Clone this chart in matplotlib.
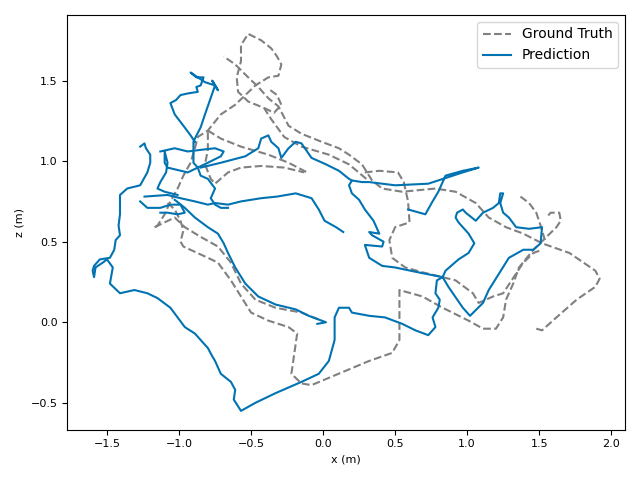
import matplotlib
matplotlib.use("Agg")
import matplotlib.pyplot as plt

# Ground truth trajectory pieces (x, z in metres)
gt1_x = [1.48, 1.52, 1.62, 1.76, 1.89, 1.92, 1.89, 1.71, 1.52, 1.39, 1.27, 1.15, 1.06, 0.92, 0.78,
         0.55, 0.41, 0.34, 0.27, 0.18, 0.11, -0.01, -0.15, -0.24, -0.31, -0.38, -0.45, -0.52, -0.61, -0.69]
gt1_y = [-0.04, -0.05, 0.03, 0.14, 0.22, 0.27, 0.32, 0.43, 0.49, 0.55, 0.59, 0.65, 0.74, 0.81, 0.83,
         0.81, 0.83, 0.88, 0.98, 1.04, 1.08, 1.12, 1.17, 1.22, 1.34, 1.39, 1.46, 1.52, 1.60, 1.65]

gt2_x = [0.30, 0.18, 0.04, -0.15, -0.27, -0.36, -0.41, -0.52, -0.59, -0.60, -0.57, -0.57, -0.52, -0.43,
         -0.36, -0.32, -0.29, -0.31, -0.38, -0.47, -0.54, -0.61, -0.71, -0.80, -0.87, -0.89, -0.92,
         -0.97, -1.01, -1.06, -1.10, -1.15, -1.18]
gt2_y = [0.89, 0.98, 1.04, 1.09, 1.15, 1.26, 1.33, 1.37, 1.43, 1.52, 1.62, 1.72, 1.79, 1.75,
         1.70, 1.65, 1.60, 1.53, 1.52, 1.47, 1.41, 1.35, 1.29, 1.19, 1.15, 1.08, 0.99,
         0.91, 0.83, 0.75, 0.67, 0.60, 0.58]

gt3_x = [-0.41, -0.34, -0.29, -0.32, -0.38]
gt3_y = [1.33, 1.30, 1.35, 1.41, 1.45]

gt4_x = [-0.80, -0.71, -0.57, -0.38, -0.24, -0.11]
gt4_y = [1.19, 1.14, 1.09, 1.04, 0.99, 0.93]

gt5_x = [-0.80, -0.80, -0.82, -0.78, -0.75, -0.66, -0.57, -0.43, -0.27, -0.13]
gt5_y = [1.18, 1.07, 0.98, 0.89, 0.86, 0.93, 0.96, 0.97, 0.96, 0.93]

gt6_x = [-1.08, -1.03, -0.99, -0.97, -0.99, -0.97, -0.80, -0.73, -0.64, -0.57, -0.50, -0.38, -0.24,
         -0.18, -0.22, -0.15, -0.08, 0.16, 0.32, 0.48, 0.53, 0.53, 0.69, 0.83, 1.01, 1.11, 1.20,
         1.25, 1.27, 1.32, 1.36, 1.46, 1.54, 1.62, 1.65, 1.64, 1.58, 1.55]
gt6_y = [0.74, 0.70, 0.63, 0.57, 0.50, 0.47, 0.40, 0.37, 0.26, 0.16, 0.06, 0.01, -0.03,
         -0.07, -0.32, -0.38, -0.39, -0.30, -0.24, -0.19, -0.11, 0.20, 0.16, 0.09, 0.01, -0.04, -0.04,
         0.03, 0.14, 0.24, 0.34, 0.45, 0.52, 0.59, 0.63, 0.68, 0.68, 0.65]

gt7_x = [1.37, 1.43, 1.48, 1.51, 1.54]
gt7_y = [0.78, 0.74, 0.68, 0.60, 0.51]

gt8_x = [-1.17, -1.10, -1.03, -0.96, -0.85, -0.73, -0.64, -0.57, -0.47, -0.33, -0.15, -0.01]
gt8_y = [0.59, 0.62, 0.65, 0.59, 0.53, 0.47, 0.37, 0.24, 0.14, 0.09, 0.06, 0.01]

gt9_x = [0.29, 0.39, 0.52, 0.56, 0.59, 0.60, 0.50, 0.46, 0.48, 0.57, 0.69, 0.92, 1.04, 1.08, 1.18,
         1.25, 1.39, 1.46, 1.52]
gt9_y = [0.93, 0.94, 0.93, 0.87, 0.75, 0.62, 0.59, 0.51, 0.40, 0.34, 0.31, 0.26, 0.18, 0.12, 0.16,
         0.18, 0.37, 0.43, 0.45]

# Predicted trajectory pieces
pr1_x = [-1.27, -1.24, -1.23, -1.20, -1.20, -1.22, -1.27, -1.36, -1.41, -1.41, -1.41, -1.42, -1.41,
         -1.44, -1.45, -1.48, -1.55, -1.59, -1.60, -1.59, -1.58, -1.53, -1.50, -1.46, -1.48, -1.41,
         -1.31, -1.22, -1.15, -1.06, -1.01, -0.96, -0.89, -0.80, -0.77, -0.75, -0.71, -0.64, -0.61,
         -0.62, -0.57, -0.47, -0.33, -0.15, -0.03, 0.04, 0.08, 0.08, 0.11, 0.18, 0.20, 0.32, 0.43,
         0.55, 0.64, 0.73, 0.78, 0.76, 0.80, 0.81, 0.78, 0.79, 0.83]
pr1_y = [1.09, 1.11, 1.08, 1.04, 0.99, 0.93, 0.85, 0.83, 0.79, 0.73, 0.67, 0.60, 0.54,
         0.51, 0.45, 0.40, 0.39, 0.35, 0.32, 0.28, 0.34, 0.37, 0.39, 0.34, 0.24, 0.18,
         0.20, 0.18, 0.15, 0.09, 0.03, -0.03, -0.07, -0.16, -0.21, -0.24, -0.32, -0.37, -0.42,
         -0.48, -0.55, -0.50, -0.44, -0.37, -0.32, -0.24, -0.11, 0.03, 0.09, 0.09, 0.06, 0.04, 0.03,
         -0.01, -0.05, -0.08, -0.03, 0.03, 0.09, 0.14, 0.18, 0.26, 0.28]

pr2_x = [0.83, 0.85, 0.94, 1.01, 1.05, 1.01, 0.94, 0.92, 0.93, 0.97, 0.99, 1.06, 1.11, 1.18, 1.22,
         1.23, 1.25, 1.23, 1.25, 1.29, 1.34, 1.43, 1.52, 1.51, 1.46, 1.39, 1.29, 1.22, 1.15, 1.11,
         1.02, 0.97, 0.87, 0.83]
pr2_y = [0.28, 0.32, 0.39, 0.43, 0.49, 0.55, 0.62, 0.65, 0.68, 0.70, 0.68, 0.63, 0.68, 0.71, 0.74,
         0.80, 0.80, 0.74, 0.68, 0.65, 0.59, 0.58, 0.59, 0.49, 0.45, 0.45, 0.40, 0.30, 0.20, 0.12,
         0.04, 0.09, 0.22, 0.28]

pr3_x = [0.83, 0.66, 0.50, 0.41, 0.32, 0.29, 0.41, 0.42, 0.34, 0.32, 0.39, 0.35, 0.29, 0.25, 0.20,
         0.18, 0.20, 0.27, 0.32, 0.50, 0.73, 0.97, 1.08, 0.97, 0.85, 0.80, 0.76, 0.71, 0.59]
pr3_y = [0.28, 0.31, 0.34, 0.35, 0.40, 0.48, 0.47, 0.50, 0.54, 0.56, 0.55, 0.63, 0.70, 0.76, 0.80,
         0.85, 0.88, 0.87, 0.87, 0.85, 0.86, 0.93, 0.96, 0.94, 0.91, 0.81, 0.75, 0.67, 0.70]

pr4_x = [-1.24, -1.08, -0.99, -0.89, -0.80, -0.75, -0.66, -0.57, -0.43, -0.32, -0.19, -0.08, -0.03,
         0.01, 0.09, 0.14]
pr4_y = [0.78, 0.79, 0.77, 0.75, 0.73, 0.74, 0.73, 0.75, 0.77, 0.78, 0.80, 0.77, 0.70,
         0.63, 0.59, 0.56]

pr5_x = [-0.85, -0.71, -0.54, -0.45, -0.43, -0.38, -0.36, -0.31, -0.29, -0.24, -0.19, -0.15, -0.08,
         0.02, 0.11, 0.18, 0.20]
pr5_y = [0.96, 0.99, 1.03, 1.08, 1.14, 1.16, 1.12, 1.08, 1.02, 1.08, 1.12, 1.11, 1.02,
         0.98, 0.94, 0.89, 0.88]

pr6_x = [-0.89, -0.92, -0.97, -1.03, -1.06, -1.02, -0.99, -0.94, -0.87, -0.88, -0.85, -0.83, -0.88,
         -0.92, -0.82, -0.75, -0.77, -0.73, -0.75, -0.82, -0.85, -0.89, -0.90, -0.90, -0.87, -0.85,
         -0.80, -0.75, -0.78, -0.75, -0.71, -0.66]
pr6_y = [1.12, 1.16, 1.22, 1.29, 1.36, 1.38, 1.41, 1.42, 1.43, 1.46, 1.47, 1.52, 1.52,
         1.55, 1.49, 1.47, 1.50, 1.44, 1.47, 1.29, 1.21, 1.14, 1.12, 0.99, 0.96, 0.91,
         0.89, 0.83, 0.77, 0.73, 0.71, 0.71]

pr7_x = [-1.13, -1.03, -0.94, -0.85, -0.75, -0.69, -0.71, -0.80, -0.87, -0.94, -1.08, -1.10, -1.10,
         -1.08, -1.09, -1.13, -1.15, -1.10, -1.01]
pr7_y = [1.06, 1.08, 1.06, 1.07, 1.08, 1.06, 1.03, 0.99, 0.96, 0.93, 0.96, 0.99, 1.06,
         0.99, 0.93, 0.87, 0.83, 0.81, 0.79]

pr8_x = [-1.27, -1.22, -1.13, -1.06, -0.99, -0.96, -1.01, -1.08, -1.13]
pr8_y = [0.75, 0.71, 0.71, 0.73, 0.73, 0.68, 0.67, 0.68, 0.68]

pr9_x = [-1.03, -0.96, -0.89, -0.80, -0.73, -0.69, -0.66, -0.61, -0.54, -0.45, -0.33, -0.19, -0.10,
         -0.01, 0.02, -0.04]
pr9_y = [0.76, 0.71, 0.65, 0.59, 0.55, 0.49, 0.43, 0.34, 0.24, 0.16, 0.11, 0.08, 0.04,
         0.01, 0.00, -0.01]

gt_segments = [(gt1_x, gt1_y), (gt2_x, gt2_y), (gt3_x, gt3_y), (gt4_x, gt4_y), (gt5_x, gt5_y),
               (gt6_x, gt6_y), (gt7_x, gt7_y), (gt8_x, gt8_y), (gt9_x, gt9_y)]
pred_segments = [(pr1_x, pr1_y), (pr2_x, pr2_y), (pr3_x, pr3_y), (pr4_x, pr4_y), (pr5_x, pr5_y),
                 (pr6_x, pr6_y), (pr7_x, pr7_y), (pr8_x, pr8_y), (pr9_x, pr9_y)]

fig, ax = plt.subplots(figsize=(6.4, 4.8), dpi=100)

for i, (x, y) in enumerate(gt_segments):
    ax.plot(x, y, linestyle='--', color='gray', linewidth=1.5,
            label='Ground Truth' if i == 0 else None)
for i, (x, y) in enumerate(pred_segments):
    ax.plot(x, y, color='#0173B2', linewidth=1.5,
            label='Prediction' if i == 0 else None)

ax.set_xlabel('x (m)', fontsize=8)
ax.set_ylabel('z (m)', fontsize=8)
ax.tick_params(labelsize=8)
ax.legend(loc='upper right', fontsize=10)

plt.tight_layout()
plt.savefig('out.png')
